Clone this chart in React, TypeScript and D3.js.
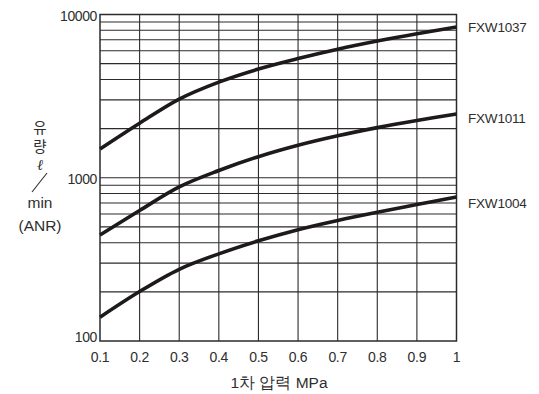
import React from "react";
import * as d3 from "d3";

const pressures = [0.1, 0.2, 0.3, 0.4, 0.5, 0.6, 0.7, 0.8, 0.9, 1.0];
const fxw1037 = [1500, 2158, 3034, 3855, 4634, 5370, 6124, 6871, 7621, 8375];
const fxw1011 = [446, 630, 879, 1107, 1346, 1581, 1807, 2028, 2244, 2460];
const fxw1004 = [140, 201, 275, 342, 411, 481, 548, 615, 685, 762];
const seriesNames = ["FXW1037", "FXW1011", "FXW1004"];
const xTicks = [0.1, 0.2, 0.3, 0.4, 0.5, 0.6, 0.7, 0.8, 0.9, 1];
const yTickLabels = [100, 1000, 10000];

const W = 539, H = 394;
const L = 100, R = 456.5, T = 14.5, B = 341;
const labelDy = [5, 9, 11];

export default function App() {
  const x = d3.scaleLinear().domain([0.1, 1]).range([L, R]);
  const y = d3.scaleLog().domain([100, 10000]).range([B, T]);
  const minor: number[] = [];
  for (const dec of [100, 1000]) for (let k = 2; k <= 10; k++) minor.push(dec * k);
  const line = d3.line<number>().x((_, i) => x(pressures[i])).y(d => y(d)).curve(d3.curveCatmullRom.alpha(0.5));
  const series = [fxw1037, fxw1011, fxw1004];
  const font = "'Liberation Sans', Arial, sans-serif";
  const c = "#2b2b2b";
  const tc = "#2e2e2e";
  return (
    <svg width={W} height={H} style={{ position: "absolute", left: 0, top: 0, background: "#fff" }} fontFamily={font}>
      {minor.map(v => (
        <line key={"h" + v} x1={L} x2={R} y1={y(v)} y2={y(v)} stroke={c} strokeWidth={1.1} />
      ))}
      {xTicks.slice(1, -1).map(v => (
        <line key={"v" + v} x1={x(v)} x2={x(v)} y1={T} y2={B} stroke={c} strokeWidth={1.1} />
      ))}
      <rect x={L} y={T} width={R - L} height={B - T} fill="none" stroke={c} strokeWidth={1.5} />
      {series.map((s, i) => (
        <path key={seriesNames[i]} d={line(s) || ""} fill="none" stroke="#1e1a1a" strokeWidth={3.6} />
      ))}
      {series.map((s, i) => (
        <text key={"l" + i} x={468} y={y(s[s.length - 1]) + labelDy[i]} fontSize={13.5} letterSpacing={-0.2} fill={tc}>{seriesNames[i]}</text>
      ))}
      {xTicks.map(v => (
        <text key={"xt" + v} x={x(v)} y={362} fontSize={14} letterSpacing={-0.3} fill={tc} textAnchor="middle">{String(v)}</text>
      ))}
      {yTickLabels.map(v => (
        <text key={"yt" + v} x={97} y={Math.min(y(v) + 6, B + 1)} fontSize={14} letterSpacing={-0.4} fill={tc} textAnchor="end">{String(v)}</text>
      ))}
      <text x={279} y={388} fontSize={15.5} fill={tc} textAnchor="middle">1차 압력 MPa</text>
      <g fontSize={15.5} fill={tc} textAnchor="middle">
        <text x={40} y={133} fontFamily="'Noto Sans CJK KR', sans-serif" fontSize={14.5}>유</text>
        <text x={40} y={152} fontFamily="'Noto Sans CJK KR', sans-serif" fontSize={14.5}>량</text>
        <text x={40} y={170} fontFamily="'DejaVu Serif', serif" fontSize={15} fontStyle="italic">ℓ</text>
        <line x1={47} y1={173} x2={32} y2={192} stroke={tc} strokeWidth={1.1} />
        <text x={40} y={208}>min</text>
        <text x={40} y={231}>(ANR)</text>
      </g>
    </svg>
  );
}
